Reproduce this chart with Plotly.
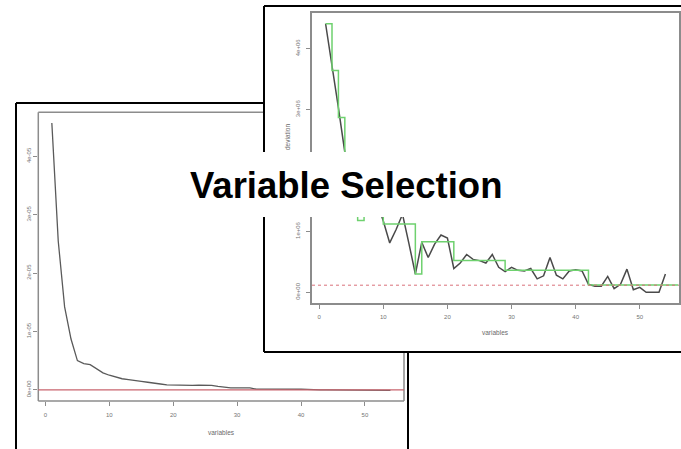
import plotly.graph_objects as go

# ---- data -------------------------------------------------------------
variables = list(range(1, 55))

# mean deviation per number of variables (left panel, units of 1e-05)
left_dev_e5 = [4.57, 2.55, 1.42, 0.87, 0.50, 0.45, 0.43, 0.36, 0.29, 0.25,
               0.215, 0.19, 0.175, 0.165, 0.145, 0.13, 0.12, 0.10, 0.086, 0.082,
               0.080, 0.079, 0.078, 0.080, 0.079, 0.075, 0.058, 0.042, 0.034, 0.033,
               0.032, 0.032, 0.012, 0.010, 0.010, 0.010, 0.010, 0.010, 0.010, 0.010,
               0.009, 0.0, 0.0, 0.0, 0.0, 0.0, -0.008, -0.008, -0.008, -0.008,
               -0.008, -0.008, -0.008, -0.008]

# deviation per number of variables (right panel, units of 1e+06)
right_dev_e6 = [4.41, 3.74, 3.03, 2.30, 1.95, 1.65, 1.55, 1.50, 1.48, 1.17,
                0.81, 1.03, 1.28, 0.80, 0.30, 0.82, 0.57, 0.79, 0.94, 0.89,
                0.39, 0.48, 0.62, 0.54, 0.52, 0.48, 0.62, 0.41, 0.34, 0.41,
                0.36, 0.35, 0.39, 0.22, 0.27, 0.57, 0.28, 0.22, 0.35, 0.37,
                0.35, 0.13, 0.10, 0.10, 0.26, 0.06, 0.13, 0.38, 0.04, 0.08,
                0.0, 0.0, 0.0, 0.30]

# grouped step levels (right panel, units of 1e+06)
step_x = [1, 2, 3, 4, 5, 6, 7, 10, 15, 16, 21, 29, 42, 56]
step_e6 = [4.41, 3.64, 2.87, 2.05, 1.60, 1.18, 1.45, 1.12, 0.30, 0.83,
           0.52, 0.36, 0.12, 0.12]

left_ref_level = 0.0
right_ref_level_e6 = 0.116

x_ticks = [0, 10, 20, 30, 40, 50]
left_y_ticks_e5 = [0, 1, 2, 3, 4]
left_y_labels = ["0e+00", "1e-05", "2e-05", "3e-05", "4e-05"]
right_y_ticks_e6 = [0, 1, 2, 3, 4]
right_y_labels = ["0e+00", "1e+06", "2e+06", "3e+06", "4e+06"]

title_text = "Variable Selection"
x_title = "variables"
right_y_title = "deviation"

# ---- helpers ----------------------------------------------------------
W, H = 681, 449


def px(x):
    return x / W


def py(y):
    return 1 - y / H


def padded(lo, hi, f=0.04):
    d = hi - lo
    return [lo - f * d, hi + f * d]


left_y = [v * 1e-5 for v in left_dev_e5]
right_y = [v * 1e6 for v in right_dev_e6]
steps_y = [v * 1e6 for v in step_e6]

x_range = padded(min(variables), max(variables))
left_range = padded(min(left_y), max(left_y))
right_range = padded(min(right_y), max(right_y))

tick_font = dict(family="Liberation Sans, Arial, sans-serif", size=6, color="#747474")
box_gray = "#8c8c8c"

fig = go.Figure()

fig.add_trace(go.Scatter(x=variables, y=left_y, mode="lines",
                         line=dict(color="#5a5a5a", width=1.3),
                         xaxis="x", yaxis="y", showlegend=False))
fig.add_trace(go.Scatter(x=variables, y=right_y, mode="lines",
                         line=dict(color="#4a4a4a", width=1.5),
                         xaxis="x2", yaxis="y2", showlegend=False))
fig.add_trace(go.Scatter(x=step_x, y=steps_y, mode="lines",
                         line=dict(color="#6fd16f", width=1.5, shape="hv"),
                         xaxis="x2", yaxis="y2", showlegend=False))

axis_common = dict(showgrid=False, zeroline=False, ticks="outside", ticklen=4,
                   tickwidth=1, tickcolor=box_gray, tickfont=tick_font)

fig.update_layout(
    width=W, height=H,
    margin=dict(l=0, r=0, t=0, b=0),
    paper_bgcolor="white", plot_bgcolor="white",
    showlegend=False,
    xaxis=dict(domain=[px(38.3), px(404)], range=x_range, anchor="y",
               tickvals=x_ticks, showline=False, ticklabelstandoff=4, **axis_common),
    yaxis=dict(domain=[py(401), py(112.3)], range=left_range, anchor="x",
               tickvals=[v * 1e-5 for v in left_y_ticks_e5], ticktext=left_y_labels,
               tickangle=-90, showline=False, ticklabelstandoff=0, **axis_common),
    xaxis2=dict(domain=[px(312), px(679)], range=x_range, anchor="y2",
                tickvals=x_ticks, showline=True, mirror=True, linecolor=box_gray,
                linewidth=1.5, ticklabelstandoff=3, **axis_common),
    yaxis2=dict(domain=[py(303), py(13)], range=right_range, anchor="x2",
                tickvals=[v * 1e6 for v in right_y_ticks_e6], ticktext=right_y_labels,
                tickangle=-90, showline=True, mirror=True, linecolor=box_gray,
                linewidth=1.5, ticklabelstandoff=4, **axis_common),
)

shapes = []


def seg(x0, y0, x1, y1, color, width):
    shapes.append(dict(type="line", xref="paper", yref="paper",
                       x0=px(x0), y0=py(y0), x1=px(x1), y1=py(y1),
                       line=dict(color=color, width=width), layer="above"))


# left panel plot frame (visible parts)
seg(38.3, 112.3, 264, 112.3, box_gray, 1.5)
seg(38.3, 112.3, 38.3, 401, box_gray, 1.5)
seg(38.3, 401, 404, 401, box_gray, 1.5)
seg(404, 352, 404, 401, box_gray, 1.5)

# reference lines
shapes.append(dict(type="line", xref="x domain", yref="y", x0=0, x1=1,
                   y0=left_ref_level, y1=left_ref_level,
                   line=dict(color="#c9656e", width=1.2), layer="above"))
shapes.append(dict(type="line", xref="x2 domain", yref="y2", x0=0, x1=1,
                   y0=right_ref_level_e6 * 1e6, y1=right_ref_level_e6 * 1e6,
                   line=dict(color="#d9707a", width=1, dash="dot"), layer="above"))

# card borders
seg(16, 103, 16, 452, "black", 2)
seg(16, 103, 264, 103, "black", 2)
seg(408, 352, 408, 452, "black", 2)
seg(264, 6, 264, 352, "black", 2)
seg(264, 6, 690, 6, "black", 2)
seg(264, 352, 690, 352, "black", 2)

# white plate behind the heading
shapes.append(dict(type="rect", xref="paper", yref="paper",
                   x0=px(176), x1=px(518), y0=py(217), y1=py(152),
                   fillcolor="white", line=dict(width=0), layer="above"))

fig.update_layout(shapes=shapes)

label_font = dict(family="Liberation Sans, Arial, sans-serif", size=6.5, color="#6a6a6a")
fig.add_annotation(x=px(221), y=py(432), xref="paper", yref="paper", text=x_title,
                   showarrow=False, font=label_font, xanchor="center", yanchor="middle")
fig.add_annotation(x=px(495.5), y=py(332), xref="paper", yref="paper", text=x_title,
                   showarrow=False, font=label_font, xanchor="center", yanchor="middle")
fig.add_annotation(x=px(287), y=py(137), xref="paper", yref="paper", text=right_y_title,
                   showarrow=False, font=label_font, textangle=-90,
                   xanchor="center", yanchor="middle")
fig.add_annotation(x=px(346.5), y=py(185.5), xref="paper", yref="paper", text=title_text,
                   showarrow=False, xanchor="center", yanchor="middle",
                   font=dict(family="Liberation Sans, Arial, sans-serif", size=36.5,
                             color="black", weight="bold"))

fig.write_html("out.html")
